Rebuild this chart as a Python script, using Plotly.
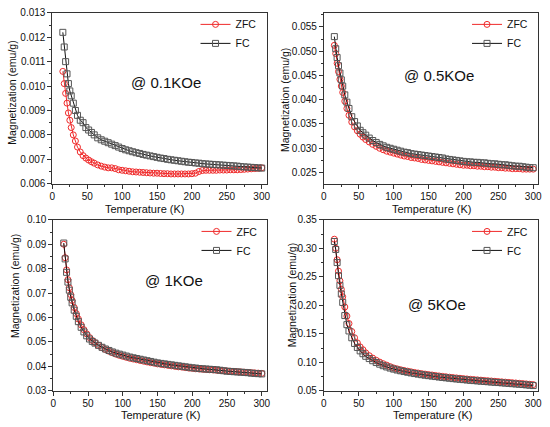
import plotly.graph_objects as go

# temperature grid (K) shared by all four measurements
temps = [15, 17, 19, 21, 23, 25, 27, 30, 33, 36, 40, 44, 48, 52, 56, 60,
         65, 70, 75, 80, 85, 90, 95, 100,
         105, 110, 115, 120, 125, 130, 135, 140, 145, 150,
         155, 160, 165, 170, 175, 180, 185, 190, 195, 200,
         205, 210, 215, 220, 225, 230, 235, 240, 245, 250,
         255, 260, 265, 270, 275, 280, 285, 290, 295, 300]

# @ 0.1 KOe
zfc_01 = [0.0106, 0.0101, 0.0097, 0.0093, 0.0089, 0.0086, 0.0083, 0.0080, 0.00775, 0.0075, 0.0073, 0.00715, 0.00705, 0.00697, 0.0069, 0.00684,
          0.00677, 0.00672, 0.00668, 0.00665, 0.00665, 0.00662, 0.00657, 0.00655,
          0.00653, 0.00651, 0.00649, 0.00648, 0.00647, 0.00646, 0.00645, 0.00644, 0.00643, 0.00643,
          0.00642, 0.00641, 0.00641, 0.0064, 0.0064, 0.0064, 0.0064, 0.0064, 0.0064, 0.00641,
          0.00643, 0.0065, 0.00654, 0.00655, 0.00655, 0.00655, 0.00655, 0.00656, 0.00656, 0.00656,
          0.00657, 0.00657, 0.00657, 0.00658, 0.00659, 0.0066, 0.00661, 0.00662, 0.00663, 0.00665]
fc_01 = [0.0122, 0.0116, 0.0110, 0.0105, 0.0101, 0.0098, 0.0096, 0.0093, 0.0090, 0.0088, 0.0086, 0.0085, 0.0083, 0.0082, 0.0081, 0.0080,
         0.00788, 0.00780, 0.00774, 0.00768, 0.00762, 0.00756, 0.00750, 0.00744,
         0.00739, 0.00735, 0.00731, 0.00727, 0.00724, 0.00720, 0.00717, 0.00714, 0.00711, 0.00708,
         0.00705, 0.00703, 0.00700, 0.00698, 0.00696, 0.00694, 0.00692, 0.00690, 0.00688, 0.00687,
         0.00685, 0.00684, 0.00682, 0.00681, 0.00680, 0.00679, 0.00678, 0.00677, 0.00676, 0.00675,
         0.00674, 0.00673, 0.00672, 0.00670, 0.00669, 0.00668, 0.00667, 0.00666, 0.00665, 0.00664]

# @ 0.5 KOe
zfc_05 = [0.0512, 0.0495, 0.0475, 0.0458, 0.0442, 0.0428, 0.0415, 0.0397, 0.0382, 0.0368, 0.0354, 0.0344, 0.0336, 0.0329, 0.0323, 0.0318,
          0.0313, 0.0308, 0.0304, 0.0300, 0.0297, 0.0294, 0.0292, 0.0290,
          0.0288, 0.0286, 0.0284, 0.0283, 0.0281, 0.0280, 0.0279, 0.0277, 0.0276, 0.0275,
          0.0274, 0.0273, 0.0272, 0.0271, 0.0270, 0.0269, 0.0268, 0.0267, 0.0266, 0.0265,
          0.0265, 0.0264, 0.0264, 0.0263, 0.0263, 0.0262, 0.0262, 0.0261, 0.0261, 0.0260,
          0.0260, 0.0259, 0.0259, 0.0258, 0.0258, 0.0258, 0.0257, 0.0257, 0.0257, 0.0257]
fc_05 = [0.0530, 0.0505, 0.0487, 0.0470, 0.0455, 0.0441, 0.0428, 0.0410, 0.0395, 0.0382, 0.0365, 0.0355, 0.0346, 0.0337, 0.0332, 0.0327,
         0.0321, 0.0316, 0.0312, 0.0308, 0.0305, 0.0302, 0.0300, 0.0298,
         0.0296, 0.0294, 0.0292, 0.0291, 0.0289, 0.0288, 0.0287, 0.0286, 0.0285, 0.0284,
         0.0283, 0.0282, 0.0281, 0.0280, 0.0278, 0.0277, 0.0276, 0.0275, 0.0274, 0.0273,
         0.0272, 0.0272, 0.0271, 0.0271, 0.0270, 0.0270, 0.0269, 0.0268, 0.0268, 0.0267,
         0.0266, 0.0266, 0.0265, 0.0264, 0.0263, 0.0263, 0.0262, 0.0261, 0.0260, 0.0260]

# @ 1 KOe
zfc_1 = [0.0900, 0.0845, 0.0795, 0.0755, 0.0722, 0.0694, 0.0670, 0.0641, 0.0616, 0.0594, 0.0570, 0.0550, 0.0533, 0.0518, 0.0506, 0.0497,
         0.0486, 0.0477, 0.0469, 0.0462, 0.0456, 0.0450, 0.0445, 0.0441,
         0.0437, 0.0433, 0.0430, 0.0427, 0.0424, 0.0421, 0.0418, 0.0415, 0.0413, 0.0410,
         0.0408, 0.0406, 0.0404, 0.0402, 0.0400, 0.0398, 0.0397, 0.0395, 0.0393, 0.0392,
         0.0390, 0.0389, 0.0388, 0.0387, 0.0386, 0.0385, 0.0384, 0.0383, 0.0382, 0.0381,
         0.0380, 0.0379, 0.0378, 0.0377, 0.0376, 0.0375, 0.0374, 0.0373, 0.0372, 0.0371]
fc_1 = [0.0905, 0.0840, 0.0785, 0.0745, 0.0712, 0.0683, 0.0660, 0.0630, 0.0605, 0.0583, 0.0560, 0.0541, 0.0525, 0.0512, 0.0502, 0.0495,
        0.0486, 0.0478, 0.0471, 0.0465, 0.0459, 0.0454, 0.0450, 0.0446,
        0.0442, 0.0438, 0.0435, 0.0432, 0.0429, 0.0426, 0.0423, 0.0420, 0.0417, 0.0414,
        0.0412, 0.0410, 0.0408, 0.0406, 0.0404, 0.0402, 0.0400, 0.0398, 0.0396, 0.0394,
        0.0393, 0.0391, 0.0390, 0.0389, 0.0388, 0.0387, 0.0386, 0.0384, 0.0382, 0.0380,
        0.0379, 0.0378, 0.0377, 0.0376, 0.0375, 0.0374, 0.0372, 0.0371, 0.0370, 0.0369]

# @ 5 KOe
zfc_5 = [0.316, 0.300, 0.280, 0.260, 0.243, 0.228, 0.215, 0.197, 0.181, 0.168, 0.154, 0.143, 0.134, 0.127, 0.122, 0.1165,
         0.1115, 0.1073, 0.1035, 0.1003, 0.0975, 0.0950, 0.0923, 0.0900,
         0.0884, 0.0869, 0.0856, 0.0844, 0.0832, 0.0821, 0.0811, 0.0801, 0.0792, 0.0784,
         0.0776, 0.0768, 0.0760, 0.0752, 0.0745, 0.0738, 0.0731, 0.0725, 0.0719, 0.0713,
         0.0707, 0.0701, 0.0696, 0.0691, 0.0686, 0.0681, 0.0676, 0.0671, 0.0666, 0.0661,
         0.0656, 0.0651, 0.0646, 0.0641, 0.0636, 0.0631, 0.0626, 0.0620, 0.0614, 0.0608]
fc_5 = [0.312, 0.298, 0.275, 0.252, 0.235, 0.220, 0.205, 0.182, 0.166, 0.155, 0.143, 0.133, 0.126, 0.120, 0.115, 0.1105,
        0.1065, 0.1027, 0.0995, 0.0966, 0.0940, 0.0918, 0.0898, 0.0880,
        0.0864, 0.0850, 0.0837, 0.0825, 0.0813, 0.0802, 0.0792, 0.0782, 0.0773, 0.0765,
        0.0757, 0.0749, 0.0741, 0.0734, 0.0727, 0.0720, 0.0713, 0.0707, 0.0701, 0.0695,
        0.0689, 0.0683, 0.0678, 0.0673, 0.0668, 0.0663, 0.0658, 0.0653, 0.0648, 0.0644,
        0.0639, 0.0634, 0.0629, 0.0624, 0.0619, 0.0614, 0.0609, 0.0603, 0.0597, 0.0591]

field_labels = ['@ 0.1KOe', '@ 0.5KOe', '@ 1KOe', '@ 5KOe']

W, H = 550, 427
FONT = 'Liberation Sans, Arial, sans-serif'
RED = '#f02a2a'
GREY = '#555555'

def px(x):
    return x / W

def py(y):
    return 1 - y / H

# pixel layout of each panel: (left, right, top, bottom)
boxes = [(50, 267, 8, 183), (325, 542, 8, 183), (51, 267, 220, 395), (325, 542, 220, 395)]
yranges = [[0.006, 0.013], [0.0227, 0.0579], [0.03, 0.10], [0.05, 0.35]]
ydticks = [0.001, 0.005, 0.01, 0.05]
ytick0 = [0.006, 0.025, 0.03, 0.05]
yfmts = ['.3f', '.3f', '.2f', '.2f']
label_pos = [(165, 79), (442, 72), (173, 282), (440, 307)]
ytitle_pos = [(9, 90), (285, 97), (12, 288), (293, 297)]
xtitle_pos = [(143, 208.5), (434, 208.5), (160, 419.5), (435, 419.5)]

series = [(zfc_01, fc_01), (zfc_05, fc_05), (zfc_1, fc_1), (zfc_5, fc_5)]

def note(text, pos, size, angle=0):
    return dict(text=text, x=px(pos[0]), y=py(pos[1]), xref='paper', yref='paper',
                xanchor='center', yanchor='middle', showarrow=False, textangle=angle,
                font=dict(family=FONT, size=size, color='#111111'))

fig = go.Figure()
annotations = []
for i, (zfc, fc) in enumerate(series):
    n = '' if i == 0 else str(i + 1)
    leg = 'legend' + n
    fig.add_trace(go.Scatter(x=temps, y=zfc, name='ZFC', mode='lines+markers',
                             xaxis='x' + n, yaxis='y' + n, legend=leg,
                             line=dict(color=RED, width=1),
                             marker=dict(symbol='circle-open', size=6, color=RED, line=dict(width=1))))
    fig.add_trace(go.Scatter(x=temps, y=fc, name='FC', mode='lines+markers',
                             xaxis='x' + n, yaxis='y' + n, legend=leg,
                             line=dict(color='#111111', width=1),
                             marker=dict(symbol='square-open', size=6, color=GREY, line=dict(width=1))))
    l, r, t, b = boxes[i]
    common = dict(showline=True, linecolor='#333333', linewidth=1, mirror=True,
                  ticks='outside', ticklen=4, tickcolor='#333333', showgrid=False, zeroline=False,
                  tickfont=dict(family=FONT, size=10, color='#111111'))
    fig.update_layout({
        'xaxis' + n: dict(domain=[px(l), px(r)], anchor='y' + n, range=[0, 307],
                          dtick=50, tick0=0, ticklabelstandoff=-1,
                          minor=dict(ticks='outside', ticklen=2, dtick=25, tickcolor='#333333'),
                          **common),
        'yaxis' + n: dict(domain=[py(b), py(t)], anchor='x' + n, range=yranges[i],
                          dtick=ydticks[i], tick0=ytick0[i], tickformat=yfmts[i],
                          minor=dict(ticks='outside', ticklen=2, dtick=ydticks[i] / 2, tickcolor='#333333'),
                          **common),
        leg: dict(x=px(l + 145), y=py(t - 3), xanchor='left', yanchor='top',
                  bgcolor='rgba(0,0,0,0)', itemwidth=30, tracegroupgap=0,
                  font=dict(family=FONT, size=10.5, color='#111111')),
    })
    annotations.append(note(field_labels[i], label_pos[i], 15))
    annotations.append(note('Magnetization (emu/g)', ytitle_pos[i], 10.5, -90))
    annotations.append(note('Temperature (K)', xtitle_pos[i], 11))

fig.update_layout(width=W, height=H, margin=dict(l=0, r=0, t=0, b=0),
                  paper_bgcolor='white', plot_bgcolor='white',
                  annotations=annotations, showlegend=True)

# drop the browser's default page margin so the figure sits at the window's corner
fig.write_html("out.html", config={'displayModeBar': False},
               post_script="document.body.style.margin='0';document.body.style.overflow='hidden';")
